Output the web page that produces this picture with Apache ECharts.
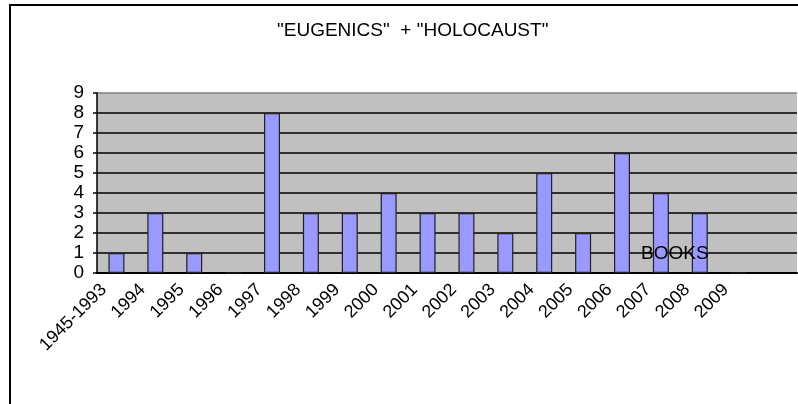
<!DOCTYPE html>
<html>
<head>
<meta charset="utf-8">
<style>
  html, body { margin: 0; padding: 0; background: #fff; }
  #chart { width: 798px; height: 404px; }
</style>
</head>
<body>
<div id="chart"></div>
<script src="https://cdn.jsdelivr.net/npm/echarts@6/dist/echarts.min.js"></script>
<script>
// categories (the last one is an empty slot, as in the original sheet)
var years = ['1945-1993', '1994', '1995', '1996', '1997', '1998', '1999', '2000', '2001',
             '2002', '2003', '2004', '2005', '2006', '2007', '2008', '2009', ''];
var books = [1, 3, 1, 0, 8, 3, 3, 4, 3, 3, 2, 5, 2, 6, 4, 3, 0, null];
var seriesName = 'BOOKS';
var titleText = '"EUGENICS"  + "HOLOCAUST"';

var font = 'Liberation Sans, Arial, sans-serif';
var chart = echarts.init(document.getElementById('chart'));

// gridline colours: top one is the plot border (grey)
var gridColors = ['#000', '#000', '#000', '#000', '#000', '#000', '#000', '#000', '#000', '#808080'];

chart.setOption({
    backgroundColor: '#fff',
    animation: false,
    title: {
        text: titleText,
        left: 277,
        top: 21,
        padding: 0,
        textStyle: { fontFamily: font, fontSize: 19, fontWeight: 'normal', color: '#000' }
    },
    legend: {
        data: [seriesName],
        left: 636,
        top: 244,
        padding: 0,
        icon: 'none',
        itemWidth: 0,
        itemHeight: 0,
        textStyle: { fontFamily: font, fontSize: 19, color: '#000' }
    },
    grid: {
        left: 97,
        top: 93,
        right: 1,
        bottom: 131,
        show: true,
        backgroundColor: '#c0c0c0',
        borderWidth: 0
    },
    xAxis: {
        type: 'category',
        data: years,
        axisLine: { lineStyle: { color: '#000', width: 2 } },
        axisTick: { length: 5, lineStyle: { color: '#000', width: 1.5 } },
        axisLabel: {
            interval: 0,
            rotate: 45,
            margin: 14,
            verticalAlign: 'bottom',
            padding: [0, 9, 0, 0],
            fontFamily: font,
            fontSize: 18,
            color: '#000'
        },
        splitLine: { show: false }
    },
    yAxis: {
        type: 'value',
        min: 0,
        max: 9,
        interval: 1,
        axisLine: { show: true, lineStyle: { color: '#000', width: 1.5 } },
        axisTick: { show: true, length: 4, lineStyle: { color: '#000', width: 1.5 } },
        axisLabel: { margin: 13, fontFamily: font, fontSize: 19, color: '#000' },
        splitLine: { lineStyle: { color: gridColors, width: 1.5 } }
    },
    series: [{
        name: seriesName,
        type: 'bar',
        data: books,
        barWidth: 16,
        itemStyle: { color: '#9999ff', borderColor: '#222', borderWidth: 1.2 }
    }],
    graphic: [{
        type: 'rect',
        shape: { x: 10, y: 5, width: 800, height: 420 },
        style: { fill: 'none', stroke: '#000', lineWidth: 2 },
        silent: true
    }]
});
</script>
</body>
</html>
